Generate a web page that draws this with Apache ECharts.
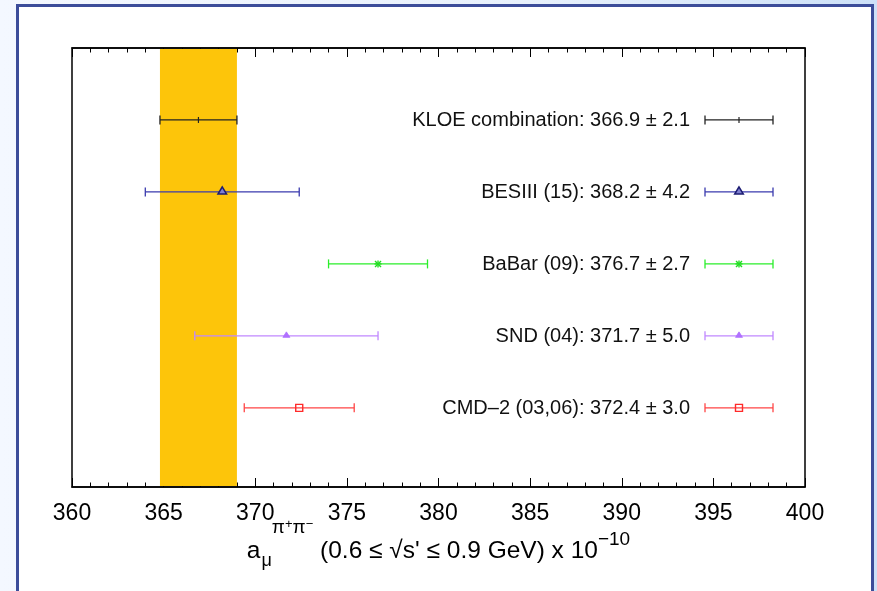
<!DOCTYPE html>
<html lang="en">
<head>
<meta charset="UTF-8">
<title>a_mu pi+pi- comparison</title>
<style>
  html, body { margin: 0; padding: 0; }
  body {
    width: 877px; height: 591px; overflow: hidden; position: relative;
    background: linear-gradient(to right, #f4f8ff 0%, #e8f1fc 60%, #cde1f8 100%);
  }
  .frame {
    position: absolute; left: 16px; top: 4px; width: 852px; height: 620px;
    background: #fff; border: 3px solid #3c4d9a;
  }
  #chart { position: absolute; left: 0; top: 0; width: 877px; height: 591px; }
</style>
</head>
<body>
<div class="frame"></div>
<div id="chart"></div>
<script src="https://cdn.jsdelivr.net/npm/echarts/dist/echarts.min.js"></script>
<script>
// measurements, top row first
var experiments = ['KLOE combination', 'BESIII (15)', 'BaBar (09)', 'SND (04)', 'CMD\u20132 (03,06)'];
var centralValues = [366.9, 368.2, 376.7, 371.7, 372.4];
var errors = [2.1, 4.2, 2.7, 5.0, 3.0];
var rowPos = [5, 4, 3, 2, 1];

var lineColors = ['#222222', '#3a3aae', '#2aee2a', '#c088ff', '#ff4545'];
var markColors = ['#222222', '#1c1c72', '#22dd22', '#b070ff', '#ff2a2a'];
var markTypes = ['plus', 'triOpen', 'star', 'triFill', 'square'];

var FONT = '"Liberation Sans", Arial, Helvetica, sans-serif';

var chart = echarts.init(document.getElementById('chart'));

function marker(i, x, y) {
  var c = markColors[i];
  var t = markTypes[i];
  if (t === 'plus') {
    return { type: 'line', shape: { x1: x, y1: y - 3, x2: x, y2: y + 3 }, style: { stroke: c, lineWidth: 1.2 } };
  }
  if (t === 'triOpen') {
    return { type: 'polygon', shape: { points: [[x, y - 5], [x - 4.2, y + 2], [x + 4.2, y + 2]] },
      style: { fill: '#8080d0', stroke: c, lineWidth: 1.6 } };
  }
  if (t === 'star') {
    return { type: 'group', children: [
      { type: 'line', shape: { x1: x - 3.5, y1: y, x2: x + 3.5, y2: y }, style: { stroke: c, lineWidth: 1.4 } },
      { type: 'line', shape: { x1: x, y1: y - 3.5, x2: x, y2: y + 3.5 }, style: { stroke: c, lineWidth: 1.4 } },
      { type: 'line', shape: { x1: x - 3, y1: y - 3, x2: x + 3, y2: y + 3 }, style: { stroke: c, lineWidth: 1.4 } },
      { type: 'line', shape: { x1: x - 3, y1: y + 3, x2: x + 3, y2: y - 3 }, style: { stroke: c, lineWidth: 1.4 } }
    ] };
  }
  if (t === 'triFill') {
    return { type: 'polygon', shape: { points: [[x, y - 4], [x - 3.5, y + 1.5], [x + 3.5, y + 1.5]] },
      style: { fill: c, stroke: c, lineWidth: 0.8 } };
  }
  return { type: 'rect', shape: { x: x - 3.5, y: y - 3.5, width: 7, height: 7 },
    style: { fill: 'none', stroke: c, lineWidth: 1.4 } };
}

function errorBar(children, i, x1, x2, xm, y) {
  var st = { stroke: lineColors[i], lineWidth: 1.3 };
  children.push({ type: 'line', shape: { x1: x1, y1: y, x2: x2, y2: y }, style: st });
  children.push({ type: 'line', shape: { x1: x1, y1: y - 4.5, x2: x1, y2: y + 4.5 }, style: st });
  children.push({ type: 'line', shape: { x1: x2, y1: y - 4.5, x2: x2, y2: y + 4.5 }, style: st });
  children.push(marker(i, xm, y));
}

function renderPoint(params, api) {
  var i = params.dataIndex;
  var v = api.value(0), e = api.value(1), r = api.value(2);
  var cs = params.coordSys;
  var lo = api.coord([v - e, r]);
  var hi = api.coord([v + e, r]);
  var c = api.coord([v, r]);
  var y = c[1];
  var children = [];
  errorBar(children, i, lo[0], hi[0], c[0], y);
  // legend entry on the right
  var right = cs.x + cs.width;
  var lx1 = right - 100, lx2 = right - 32;
  errorBar(children, i, lx1, lx2, (lx1 + lx2) / 2, y);
  children.push({
    type: 'text',
    style: {
      text: experiments[i] + ': ' + v.toFixed(1) + ' \u00b1 ' + e.toFixed(1),
      x: right - 115, y: y + 1, align: 'right', verticalAlign: 'middle',
      font: '20px ' + FONT, fill: '#111'
    }
  });
  return { type: 'group', children: children };
}

function renderBand(params, api) {
  var cs = params.coordSys;
  var a = api.coord([api.value(0), 0]);
  var b = api.coord([api.value(1), 0]);
  return { type: 'rect', shape: { x: a[0], y: cs.y + 1, width: b[0] - a[0], height: cs.height - 2 },
    style: { fill: '#fdc50a' } };
}

var pointData = experiments.map(function (n, i) { return [centralValues[i], errors[i], rowPos[i]]; });
var bandData = [[centralValues[0] - errors[0], centralValues[0] + errors[0]]];

var tickStyle = { show: true, inside: true, length: 9, lineStyle: { color: '#000', width: 1 } };
var minorStyle = { show: true, splitNumber: 5, length: 4.5, lineStyle: { color: '#000', width: 1 } };

chart.setOption({
  animation: false,
  grid: { left: 72, right: 72, top: 48, bottom: 104, show: true, borderColor: '#000', borderWidth: 1.5,
    outerBoundsMode: 'none', containLabel: false },
  xAxis: [
    {
      type: 'value', min: 360, max: 400, interval: 5,
      axisLine: { show: true, onZero: false, lineStyle: { color: '#000', width: 1.5 } },
      axisTick: tickStyle, minorTick: minorStyle,
      splitLine: { show: false },
      axisLabel: { color: '#000', fontSize: 23, fontFamily: FONT, margin: 15 },
      name: '{n|a}{sub|\u03bc}{pi|\u03c0}{pm|+}{pi|\u03c0}{pm|\u2212}{n| (0.6 \u2264 \u221as\' \u2264 0.9 GeV) x 10}{e|\u221210}',
      nameLocation: 'middle', nameGap: 49, nameMoveOverlap: false,
      nameTextStyle: {
        color: '#000', fontFamily: FONT, fontSize: 24.5,
        rich: {
          n: { fontSize: 24.5, lineHeight: 30, fontFamily: FONT, color: '#000', verticalAlign: 'middle' },
          sub: { fontSize: 18, lineHeight: 18, fontFamily: FONT, color: '#000', padding: [20, 0, 0, 1], verticalAlign: 'middle' },
          pi: { fontSize: 19, lineHeight: 19, fontFamily: FONT, color: '#000', padding: [0, 0, 46, 0], verticalAlign: 'middle' },
          pm: { fontSize: 13, lineHeight: 13, fontFamily: FONT, color: '#000', padding: [0, 0, 54, 0], verticalAlign: 'middle' },
          e: { fontSize: 19, lineHeight: 19, fontFamily: FONT, color: '#000', padding: [0, 0, 22, 0], verticalAlign: 'middle' }
        }
      }
    },
    {
      type: 'value', position: 'top', min: 360, max: 400, interval: 5,
      axisLine: { show: true, onZero: false, lineStyle: { color: '#000', width: 1.5 } },
      axisTick: tickStyle, minorTick: minorStyle,
      splitLine: { show: false }, axisLabel: { show: false }
    }
  ],
  yAxis: { type: 'value', min: -0.1, max: 6, show: false },
  series: [
    { type: 'custom', renderItem: renderBand, data: bandData, z: 1, silent: true,
      encode: { x: [0, 1] }, clip: false },
    { type: 'custom', renderItem: renderPoint, data: pointData, z: 3, silent: true,
      encode: { x: 0, y: 2 }, clip: false }
  ]
});
</script>
</body>
</html>
